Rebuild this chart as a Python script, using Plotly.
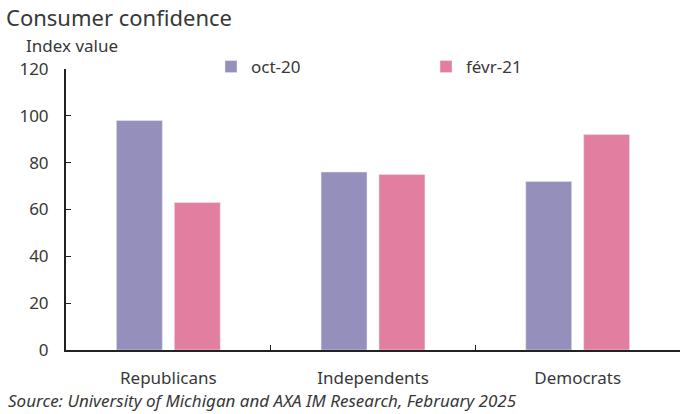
import plotly.graph_objects as go

categories = ["Republicans", "Independents", "Democrats"]
oct20 = [98, 76, 72]
feb21 = [63, 75, 92]
series_names = ["oct-20", "févr-21"]
y_ticks = [0, 20, 40, 60, 80, 100, 120]

FONT = "Noto Sans"
TXT = "#383838"

W, H = 685, 414
L, R, T, B = 66, 5, 69, 64
pw, ph = W - L - R, H - T - B

fig = go.Figure()
fig.add_trace(go.Bar(x=categories, y=oct20, name=series_names[0], marker_color="#9490BB"))
fig.add_trace(go.Bar(x=categories, y=feb21, name=series_names[1], marker_color="#E27FA0"))


def px(x):
    return (x - L) / pw


def py(y):
    return 1 - (y - T) / ph


fig.update_layout(
    width=W, height=H,
    margin=dict(l=L, r=R, t=T, b=B),
    paper_bgcolor="white", plot_bgcolor="white",
    font=dict(family=FONT, size=17, color=TXT),
    barmode="group", bargap=0.434, bargroupgap=0.207,
    showlegend=True,
    legend=dict(orientation="h", x=px(211), xanchor="left", y=py(67), yanchor="middle",
                entrywidth=170, entrywidthmode="pixels", font=dict(size=17, color=TXT),
                bgcolor="rgba(0,0,0,0)"),
    xaxis=dict(showline=True, linecolor="#222", linewidth=2, ticks="inside", tickson="boundaries",
               ticklen=5, tickcolor="#222", showgrid=False, ticklabelstandoff=12,
               tickfont=dict(size=17, color=TXT)),
    yaxis=dict(range=[0, 120], tickvals=y_ticks, showline=True, linecolor="#222", linewidth=2,
               ticks="inside", ticklen=5, tickcolor="#222", showgrid=False, zeroline=False,
               ticklabelstandoff=12, tickfont=dict(size=17, color=TXT)),
    annotations=[
        dict(text="Consumer confidence", x=px(4), y=py(17), xref="paper", yref="paper", showarrow=False,
             font=dict(size=22, color=TXT), xanchor="left", yanchor="middle"),
        dict(text="Index value", x=px(24), y=py(45), xref="paper", yref="paper", showarrow=False,
             font=dict(size=17, color=TXT), xanchor="left", yanchor="middle"),
        dict(text="<i>Source: University of Michigan and AXA IM Research, February 2025</i>",
             x=px(6), y=py(400), xref="paper", yref="paper", showarrow=False,
             font=dict(size=17, color=TXT), xanchor="left", yanchor="middle"),
    ],
)

fig.write_html("out.html")
